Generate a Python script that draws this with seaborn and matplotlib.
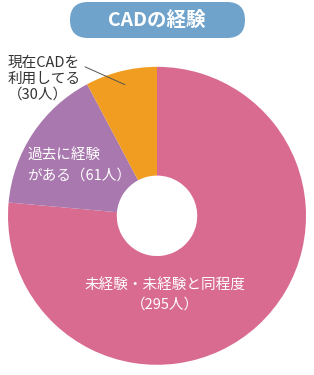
import numpy as np
import matplotlib.pyplot as plt
import seaborn as sns
from matplotlib.patches import FancyBboxPatch

# data
labels = ["未経験・未経験と同程度\n（295人）", "過去に経験\nがある（61人）", "現在CADを\n利用してる\n（30人）"]
counts = [295, 61, 30]
colors = ["#D96B91", "#A878AE", "#F09D21"]
title = "CADの経験"

sns.set_theme(style="white")
plt.rcParams['font.family'] = ['Noto Sans CJK JP', 'DejaVu Sans']

fig = plt.figure(figsize=(3.14, 3.75), dpi=100)
ax = fig.add_axes([0.0255, 0.027, 0.949, 0.795])
wedges, _ = ax.pie(counts, colors=colors, startangle=90, counterclock=False,
                   wedgeprops=dict(width=0.73, linewidth=0))
ax.set_aspect("equal")
ax.set_xlim(-1, 1)
ax.set_ylim(-1, 1)

# labels inside / outside slices
ax.text(0.055, -0.53, labels[0], color="white", fontsize=10.5, ha="center", va="center",
        linespacing=1.6)
ax.text(-0.87, 0.34, labels[1], color="white", fontsize=10.5, ha="left", va="center",
        linespacing=1.6)
ax.text(-1.0, 0.92, labels[2], color="#333333", fontsize=10.5, ha="left", va="center",
        linespacing=1.2, clip_on=False)
ax.plot([-0.483, -0.215], [1.0, 0.88], color="#555555", lw=0.7, clip_on=False)

# title pill, drawn in pixel coordinates
tax = fig.add_axes([0, 0, 1, 1], zorder=-1)
tax.set_xlim(0, 314)
tax.set_ylim(375, 0)
tax.axis("off")
tax.add_patch(FancyBboxPatch((70, 2), 175, 36, boxstyle="round,pad=0,rounding_size=18",
                             facecolor="#6FA3CB", edgecolor="none"))
tax.text(157, 20.5, title, color="white", fontsize=14, fontweight="bold",
         ha="center", va="center")

fig.savefig("out.png", dpi=100)
